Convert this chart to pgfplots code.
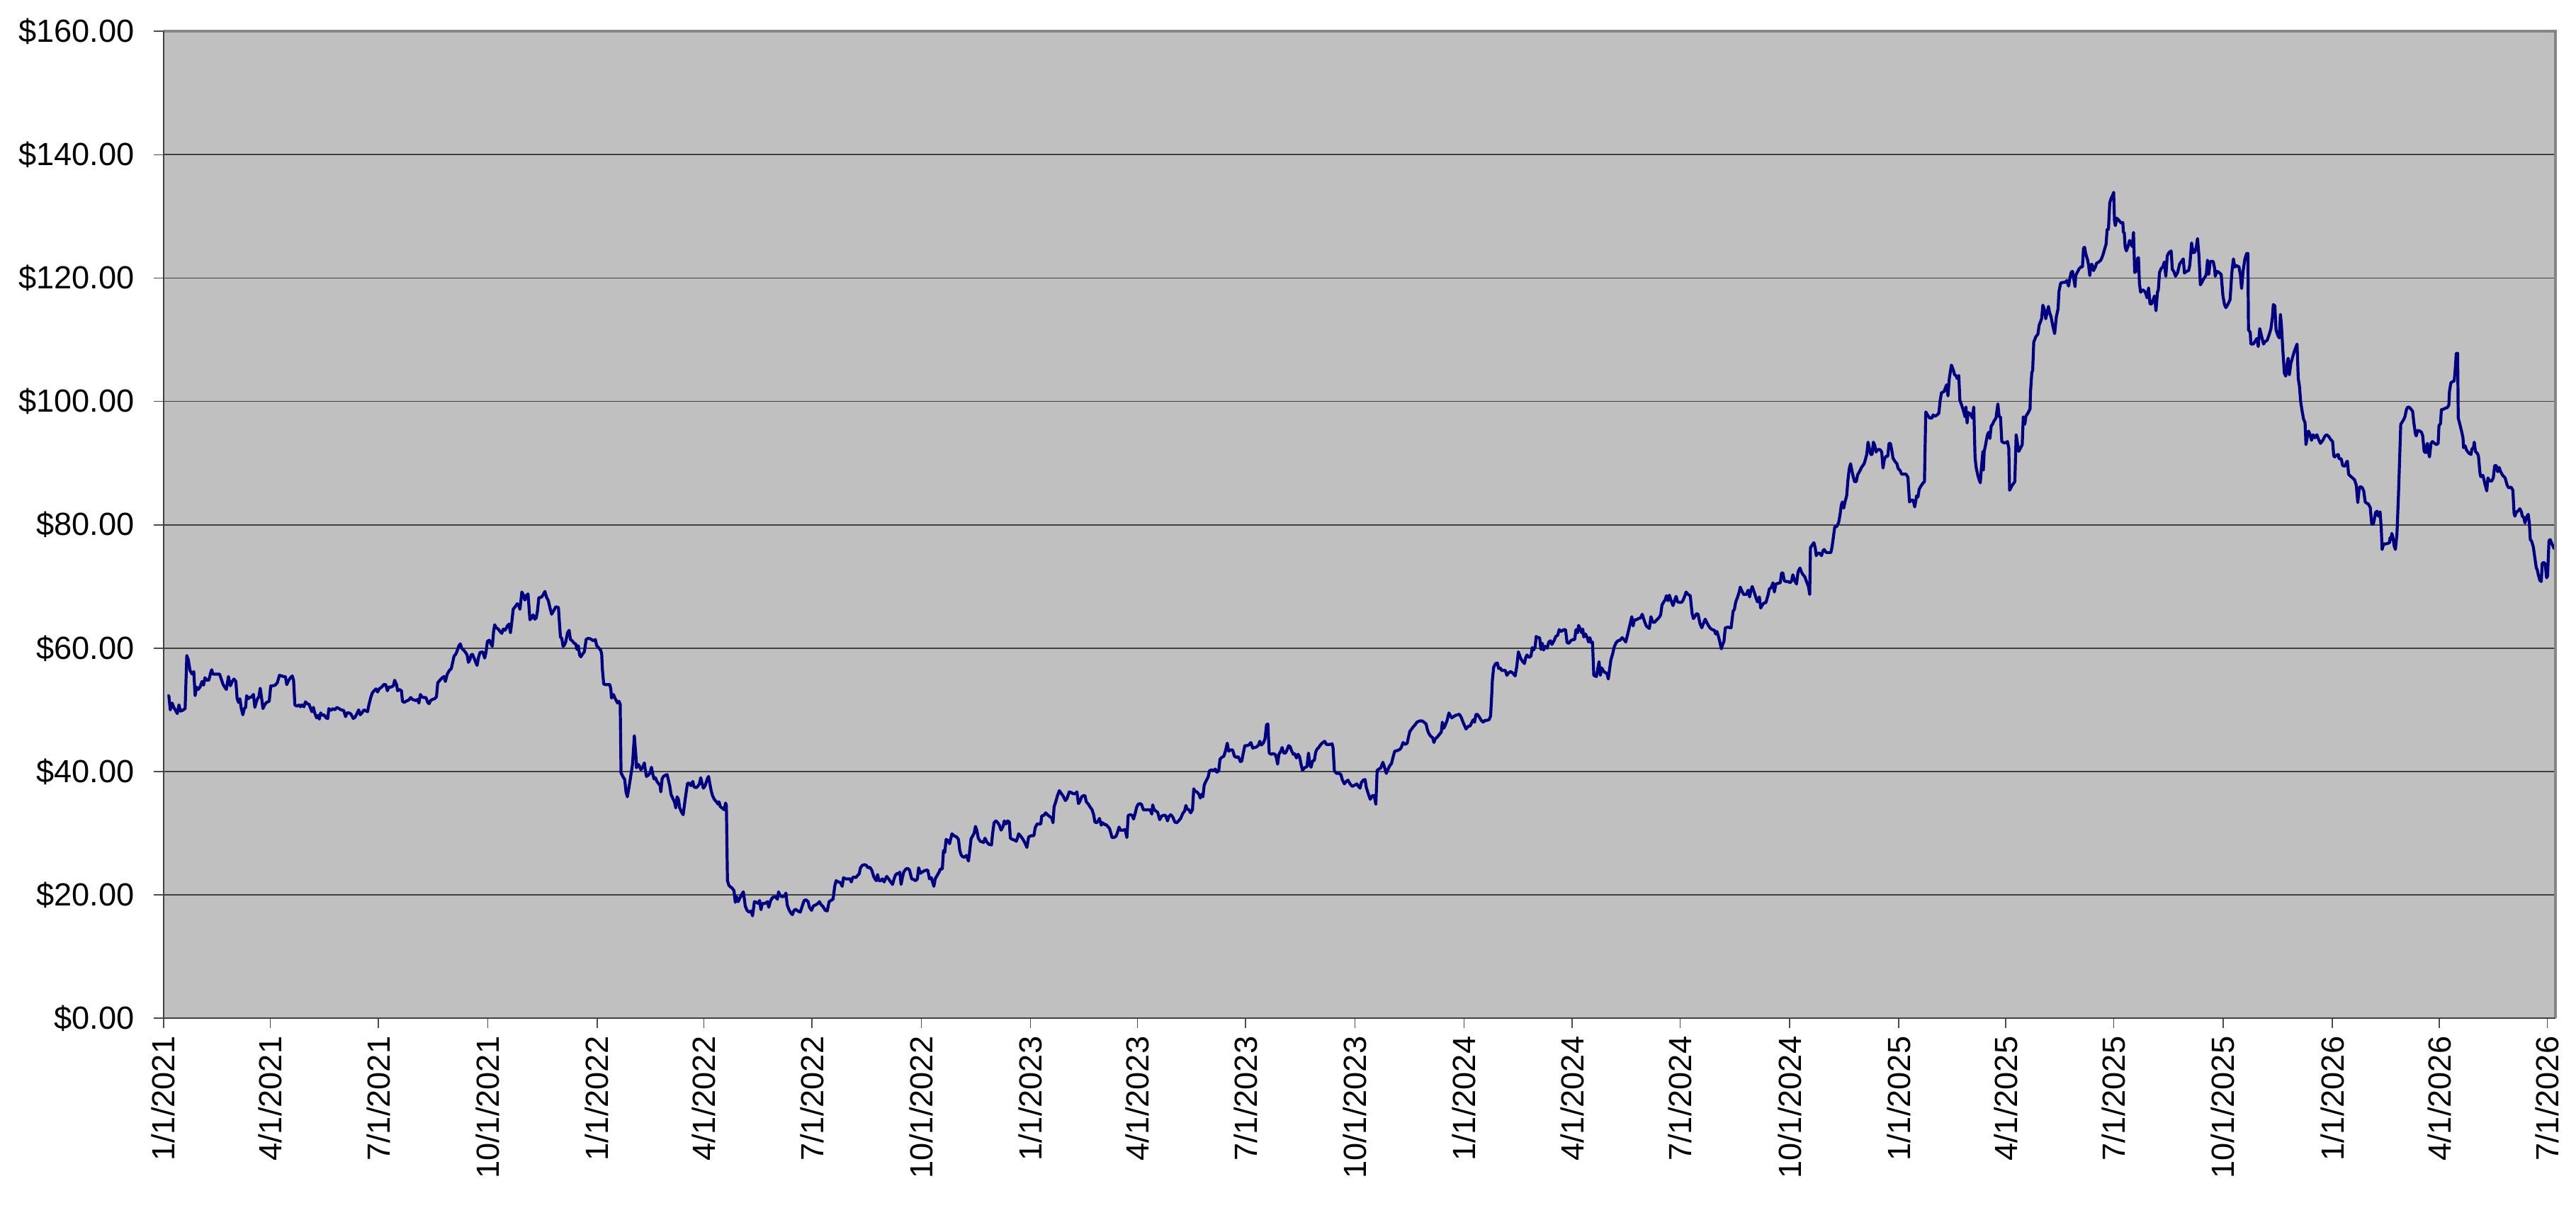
\documentclass[border=0pt]{standalone}
\usepackage{pgfplots}
\pgfplotsset{compat=1.18}
\usepackage{fontspec}
\setmainfont{Liberation Sans}
\definecolor{plotbg}{HTML}{C0C0C0}
\definecolor{navyline}{HTML}{000080}
\definecolor{edgegray}{HTML}{868686}
\begin{document}
\begin{tikzpicture}
\path[use as bounding box] (-57.7pt,-72.7pt) rectangle (851.3pt,359.3pt);
\begin{axis}[
  name=ax,
  at={(0pt,0pt)}, anchor=south west,
  scale only axis, width=844.1pt, height=348.25pt,
  xmin=0, xmax=2014, ymin=0, ymax=160,
  clip=false,
  axis background/.style={fill=plotbg},
  axis line style={draw=none},
  xtick={0,90,181,273,365,455,546,638,730,820,911,1003,1095,1186,1277,1369,1461,1551,1642,1734,1826,1916,2007},
  xticklabels={1/1/2021,4/1/2021,7/1/2021,10/1/2021,1/1/2022,4/1/2022,7/1/2022,10/1/2022,1/1/2023,4/1/2023,7/1/2023,10/1/2023,1/1/2024,4/1/2024,7/1/2024,10/1/2024,1/1/2025,4/1/2025,7/1/2025,10/1/2025,1/1/2026,4/1/2026,7/1/2026},
  ytick={0,20,40,60,80,100,120,140,160},
  yticklabels={\$0.00,\$20.00,\$40.00,\$60.00,\$80.00,\$100.00,\$120.00,\$140.00,\$160.00},
  tick align=outside, xtick pos=bottom, ytick pos=left,
  major tick length=3.45pt,
  tick style={black!70, line width=0.4pt},
  ymajorgrids, major grid style={black!75, line width=0.45pt},
  ticklabel style={font=\fontsize{11.3}{13}\selectfont},
  xticklabel style={rotate=90, anchor=east, inner sep=0pt},
  yticklabel style={anchor=east, inner sep=0pt},
  xticklabel shift=2.75pt,
  yticklabel shift=6.7pt,
  /pgf/number format/assume math mode=true,
]
\addplot[color=navyline, line width=1.05pt, line join=round, mark=none] table {
3.4 52.3
4.5 52.3
5.7 50.0
7.3 51.1
8.6 50.4
10.2 49.9
11.6 49.4
13.0 50.8
14.3 49.8
15.9 49.9
18.2 50.2
19.6 58.8
20.9 58.1
22.3 56.4
24.1 55.8
25.5 56.2
26.6 52.3
27.8 53.7
29.2 53.3
30.8 53.7
32.4 54.6
33.7 54.0
34.9 55.2
36.5 54.8
38.1 54.8
39.7 56.0
40.6 56.5
41.5 55.8
43.3 55.8
45.6 55.8
47.2 55.8
48.6 55.0
50.2 54.1
51.5 53.7
52.9 53.3
54.7 55.4
56.3 53.9
57.9 54.6
59.3 55.0
60.9 54.6
62.0 51.8
63.2 51.2
64.3 51.8
65.5 50.2
66.8 49.2
68.0 50.2
69.1 50.4
70.0 52.3
71.2 51.8
72.5 52.0
74.1 52.1
75.7 52.5
76.9 50.4
78.0 51.2
79.1 51.8
80.3 52.1
81.4 53.5
82.6 51.9
83.7 50.2
85.1 50.8
86.7 51.2
89.0 51.4
90.3 53.9
91.9 53.9
94.0 54.0
95.8 54.4
97.6 55.6
99.5 55.5
101.1 55.4
102.6 55.4
103.8 54.1
104.9 54.6
106.8 55.2
108.4 55.5
109.5 54.8
110.6 50.8
112.2 50.6
114.1 50.8
115.2 50.5
116.3 50.8
118.2 50.5
119.5 51.3
120.9 51.0
122.5 50.9
123.9 50.2
125.0 49.7
126.2 50.4
127.3 49.5
128.9 48.7
130.0 49.1
131.2 48.5
132.3 49.5
133.7 49.1
135.1 49.2
136.9 48.7
138.3 48.6
139.2 50.2
140.8 49.9
142.6 50.2
144.2 50.0
146.0 50.4
147.8 50.2
149.4 50.0
151.7 49.9
153.3 48.9
154.5 49.5
156.3 49.5
157.9 49.3
159.7 48.6
161.3 48.8
163.1 49.5
164.3 50.0
165.6 49.2
167.0 49.5
168.8 50.0
170.7 49.8
171.8 49.7
172.9 50.8
174.5 52.0
175.7 52.7
177.3 53.1
178.9 53.4
180.3 52.9
181.6 53.4
183.7 53.7
185.5 54.1
187.1 54.1
188.5 53.1
189.8 53.7
191.7 53.7
193.5 53.9
194.6 54.8
196.2 54.1
197.1 53.1
198.5 53.3
200.3 53.1
201.2 51.4
202.6 51.2
204.2 51.4
206.5 51.6
208.1 52.0
209.5 51.7
211.1 51.6
212.7 51.5
214.0 51.7
215.0 51.1
216.3 52.5
217.5 52.1
219.0 52.0
220.9 52.0
222.5 51.2
223.6 51.0
224.8 51.5
226.6 51.7
228.2 51.8
229.8 52.1
230.9 54.4
232.7 54.8
234.6 55.2
236.2 55.4
237.3 54.6
238.9 55.8
240.7 56.4
242.3 56.7
243.7 57.9
244.6 58.7
246.0 59.0
247.1 59.5
248.7 60.4
249.9 60.7
251.0 60.0
252.6 59.7
254.0 59.4
255.6 58.9
256.7 57.7
257.9 58.1
259.0 58.9
260.1 59.0
261.7 58.3
262.9 57.7
264.0 57.2
265.2 58.5
266.5 59.3
268.8 59.4
270.4 58.4
271.5 59.3
272.7 61.1
274.3 61.3
275.4 60.8
276.8 60.3
277.9 62.7
278.8 63.8
280.2 63.3
281.8 63.1
283.4 62.7
284.8 62.4
286.1 63.1
287.5 62.9
288.7 63.3
289.8 63.7
290.9 63.9
292.1 62.5
293.2 64.2
294.4 66.3
296.0 66.7
297.8 67.2
298.9 67.0
300.1 66.3
301.7 69.1
303.0 68.6
304.2 67.8
305.8 68.6
306.9 68.8
308.5 64.6
309.9 64.9
311.2 65.4
312.6 64.7
313.8 64.9
314.9 66.1
316.0 68.2
317.2 68.2
318.3 68.3
319.5 68.6
321.1 69.2
322.4 68.3
324.0 67.7
325.4 66.5
326.8 65.5
329.4 66.4
330.2 66.7
332.5 66.6
333.3 64.2
334.2 61.8
335.3 61.6
336.4 60.3
337.5 60.5
338.6 61.0
340.2 62.5
341.5 62.9
342.6 61.4
344.1 61.2
345.7 60.8
347.0 60.7
348.1 59.8
349.2 60.4
350.3 58.9
351.4 58.6
353.0 59.1
354.3 59.4
355.8 61.4
357.4 61.6
359.6 61.5
361.8 61.2
363.6 61.4
364.7 60.4
366.2 60.1
368.0 59.7
368.9 59.1
369.5 56.6
370.6 54.2
371.7 54.1
373.9 54.1
375.7 54.1
376.6 53.4
377.2 51.9
378.8 52.5
380.1 51.9
381.2 51.5
382.3 51.1
383.4 51.4
384.5 50.9
385.2 39.8
386.7 39.2
388.3 38.7
389.4 36.7
390.5 35.9
391.6 37.1
392.7 38.4
393.8 39.8
394.9 41.2
396.4 45.8
397.8 42.3
398.2 40.6
399.3 41.2
400.4 41.0
401.9 40.3
403.7 40.8
404.8 41.4
405.5 40.4
406.6 39.2
408.1 39.4
409.7 39.8
410.8 40.7
411.9 39.6
413.0 38.8
414.1 39.0
415.4 38.4
417.0 38.0
418.1 37.7
418.7 36.7
419.8 38.8
420.9 39.2
422.5 39.4
424.0 39.5
425.1 38.6
426.2 37.7
427.3 36.3
429.1 35.5
430.2 35.1
431.3 34.1
432.4 35.9
433.5 35.5
434.6 34.1
436.2 33.4
437.5 33.0
438.8 34.9
440.1 36.7
441.2 38.1
442.8 38.1
444.1 37.7
445.6 38.4
446.7 37.5
448.3 37.4
449.4 37.5
451.2 38.0
452.3 39.0
453.4 38.1
454.5 37.3
456.0 37.7
457.8 38.8
458.9 39.2
460.0 38.0
461.1 36.9
462.2 36.1
463.7 35.5
465.5 35.1
467.0 34.7
467.7 35.1
468.8 34.3
470.3 34.1
472.1 33.8
473.2 34.9
473.9 34.5
474.8 22.3
476.1 21.5
478.7 21.1
480.3 20.7
481.4 18.8
482.5 19.7
483.8 18.9
485.3 19.5
486.9 20.1
488.2 20.5
489.8 18.2
491.3 17.5
493.1 17.2
494.8 17.4
495.9 16.6
497.5 18.9
499.3 18.8
500.8 18.6
501.9 19.1
503.0 17.6
504.1 18.6
506.3 18.6
508.5 18.9
509.6 18.0
511.2 19.1
512.9 19.6
515.1 19.7
516.9 19.3
517.8 20.5
519.1 19.9
520.7 19.7
522.9 19.8
524.0 20.3
525.1 18.4
526.6 17.6
528.4 17.0
529.5 16.8
530.6 17.4
532.1 17.7
533.9 17.4
536.1 17.2
537.6 18.1
539.4 19.1
540.9 19.2
542.7 18.9
543.8 18.0
545.6 17.5
547.1 18.2
549.3 18.4
550.9 18.6
552.2 18.9
553.7 18.4
555.3 18.1
557.1 17.5
558.8 17.4
560.4 18.9
561.9 19.1
563.7 19.3
565.2 21.5
566.3 22.3
568.1 22.1
569.9 22.0
571.4 21.4
572.5 22.8
574.3 22.6
576.5 22.6
578.0 22.6
579.1 22.1
580.2 22.8
581.3 22.9
582.9 22.8
584.6 23.2
585.7 23.4
586.8 24.4
588.4 24.8
590.1 24.9
591.7 24.8
593.0 24.4
594.6 24.5
596.3 24.0
597.9 23.0
599.0 22.6
600.1 22.3
601.2 23.3
602.3 22.3
603.8 22.3
605.2 22.6
606.7 22.1
607.8 22.6
608.9 23.0
610.5 22.6
612.2 22.1
613.8 21.7
614.9 22.5
616.2 23.2
617.7 23.5
618.8 23.4
619.9 23.7
621.0 21.7
622.1 22.8
623.2 23.7
625.0 24.2
626.6 24.3
628.1 24.0
629.9 22.6
631.6 22.5
633.2 22.3
634.7 22.6
635.8 24.4
637.2 23.5
638.7 23.7
640.5 23.9
642.0 24.0
643.5 24.0
644.9 22.6
646.4 22.8
647.5 22.1
648.6 21.4
649.7 22.6
651.5 23.2
653.0 23.7
654.1 24.2
655.7 24.2
656.7 27.2
657.8 26.9
658.9 29.0
660.5 28.8
661.8 28.3
663.8 29.9
665.5 29.6
667.7 29.4
669.3 29.0
670.4 27.2
671.5 26.5
672.8 26.2
674.4 26.1
675.9 26.4
677.7 25.5
678.8 27.2
679.9 29.1
681.4 29.6
682.5 30.0
683.6 31.1
684.7 30.5
686.0 29.2
687.6 28.7
689.1 28.6
690.5 28.5
691.6 29.2
693.1 28.6
694.9 28.2
697.1 28.1
698.0 29.9
699.3 31.7
700.8 32.0
702.4 31.7
703.7 31.3
705.2 30.5
706.8 31.1
707.9 32.0
709.2 31.5
710.8 32.0
712.1 31.8
713.0 29.2
714.7 29.0
716.3 28.9
718.0 28.7
719.1 29.3
720.0 29.9
721.8 29.5
723.3 29.1
725.1 28.5
726.9 27.7
728.4 29.4
730.6 29.6
732.8 29.6
733.9 30.9
735.5 31.5
737.2 31.5
738.6 31.5
739.4 32.8
741.2 32.9
742.7 33.3
744.3 33.0
746.1 32.7
747.8 32.5
748.9 31.7
749.8 34.3
750.9 34.9
752.7 36.1
754.2 36.9
756.0 36.4
757.5 36.0
759.3 35.3
760.6 35.6
762.6 36.7
764.2 36.6
765.9 36.4
767.7 36.4
769.0 36.7
770.3 34.8
771.4 35.1
773.0 35.9
774.7 36.1
775.8 36.1
776.9 35.1
778.7 34.7
780.3 34.2
781.8 33.8
783.1 33.0
784.2 31.8
785.8 31.7
786.9 32.0
788.0 32.4
789.5 31.3
790.6 31.7
792.4 31.4
793.5 31.4
795.0 31.1
796.4 30.8
797.5 30.1
798.6 29.3
800.1 29.3
801.9 29.5
803.0 30.0
804.5 31.0
805.6 30.5
807.8 30.5
809.6 30.6
811.1 29.3
812.2 32.9
814.0 33.0
815.6 32.9
816.7 32.3
817.8 33.0
819.3 34.2
820.6 34.7
822.2 34.8
823.3 34.7
825.0 33.8
826.6 33.8
828.8 33.8
830.6 33.8
832.1 33.1
832.8 34.6
833.9 33.9
835.4 33.6
837.0 33.4
838.7 32.2
840.5 32.8
842.0 32.9
843.6 32.9
845.3 32.0
846.4 32.7
848.0 33.0
849.8 32.6
851.5 31.8
853.1 31.7
854.6 32.0
856.4 32.4
858.1 33.2
859.7 33.6
860.8 34.5
861.9 33.9
863.4 33.8
864.8 33.3
866.3 33.8
867.4 37.2
868.5 36.8
870.1 36.7
871.8 36.3
872.9 35.7
874.0 36.3
875.1 35.9
876.2 37.8
877.3 38.3
878.4 38.7
879.5 39.1
880.6 40.1
882.4 40.3
883.9 40.1
885.5 40.4
886.8 39.9
888.4 40.1
889.5 42.0
891.0 42.3
892.8 42.5
894.3 43.5
895.6 44.6
896.8 43.3
898.3 43.5
900.1 43.5
901.6 42.5
903.1 42.3
904.9 42.4
906.7 41.6
907.8 41.7
908.9 42.8
910.4 44.2
912.2 44.2
913.7 44.3
915.5 44.7
917.0 43.8
918.8 43.9
920.4 44.0
921.9 44.3
923.0 44.9
924.3 44.3
925.9 44.6
927.4 45.3
928.7 47.6
929.8 47.7
930.9 43.0
932.5 42.8
934.0 42.9
935.8 42.8
936.9 42.3
938.0 41.2
939.1 42.8
940.7 43.3
941.8 43.9
943.1 43.0
944.6 43.0
945.7 43.4
947.3 44.2
948.6 44.0
949.7 43.4
951.2 42.8
952.3 42.9
953.9 42.2
955.2 42.8
956.5 42.4
957.9 41.0
959.0 40.2
960.5 40.6
962.7 40.8
964.0 43.0
965.2 41.0
966.2 40.7
967.4 41.7
968.9 41.8
970.0 43.1
971.1 43.6
972.6 43.9
974.4 44.4
976.0 44.7
977.7 44.9
979.0 44.4
980.4 44.4
982.1 44.4
983.9 44.5
984.7 43.8
985.8 40.1
987.6 39.7
989.8 39.7
991.3 39.5
992.4 38.7
994.2 38.0
995.7 38.4
997.3 38.6
999.0 38.0
1000.8 37.6
1003.0 37.8
1004.6 38.0
1005.7 37.7
1007.4 37.3
1008.5 38.2
1010.1 38.6
1011.6 38.7
1012.7 37.4
1014.5 36.3
1016.0 35.5
1017.8 36.1
1019.3 36.1
1020.7 34.7
1021.8 40.2
1023.3 40.4
1024.9 40.6
1026.6 41.5
1027.7 40.9
1029.5 39.7
1031.0 40.4
1032.6 41.0
1033.9 41.3
1035.0 42.2
1036.6 43.3
1038.8 43.4
1041.0 43.6
1042.1 43.9
1043.6 44.7
1045.4 44.4
1047.1 44.6
1048.2 45.6
1049.3 46.5
1050.5 46.8
1052.0 47.2
1053.8 47.6
1055.3 48.0
1057.5 48.2
1059.7 48.2
1061.3 48.0
1063.0 47.7
1064.1 46.8
1065.2 46.2
1067.0 45.7
1068.5 45.5
1069.6 44.7
1070.7 45.3
1072.5 45.6
1074.1 46.0
1075.8 46.4
1076.7 48.0
1077.8 47.0
1078.9 47.4
1080.7 48.3
1082.2 49.5
1083.3 49.1
1084.6 48.7
1086.2 48.9
1087.7 49.1
1089.5 49.2
1091.0 49.3
1092.8 48.7
1093.9 48.1
1095.0 47.6
1096.6 46.9
1098.3 47.3
1100.1 47.4
1101.6 48.0
1102.7 48.4
1103.8 48.0
1104.9 49.2
1106.0 49.3
1107.6 48.9
1109.4 48.3
1111.1 48.0
1112.7 48.3
1114.2 48.3
1116.0 48.4
1117.3 49.0
1118.2 52.2
1118.8 54.8
1119.9 56.9
1121.5 57.5
1123.0 57.6
1124.1 56.7
1125.5 56.8
1126.6 56.4
1128.1 56.4
1129.7 56.4
1131.0 55.6
1132.5 56.0
1134.1 56.2
1135.8 56.0
1138.0 55.5
1139.4 57.1
1140.7 59.4
1142.5 58.4
1144.0 57.9
1145.8 57.5
1146.9 58.5
1148.0 58.9
1149.5 58.5
1151.3 58.7
1152.4 60.1
1153.5 59.7
1154.8 60.2
1155.7 61.9
1157.2 61.7
1158.6 61.7
1159.7 59.8
1160.8 60.8
1161.9 59.7
1163.4 60.3
1165.0 60.0
1166.3 61.0
1167.8 61.2
1168.9 60.6
1170.7 61.2
1172.2 61.9
1173.8 62.1
1175.1 63.0
1176.7 62.7
1178.9 63.0
1180.4 63.0
1181.7 60.9
1183.3 60.8
1184.8 61.2
1186.6 61.4
1188.1 61.4
1189.2 63.0
1190.5 62.5
1191.4 63.7
1192.8 63.1
1193.9 62.5
1194.9 63.1
1195.8 61.8
1197.2 62.3
1198.7 61.7
1199.8 61.0
1200.9 61.7
1202.0 60.9
1203.1 61.0
1204.2 55.6
1206.4 55.4
1208.6 57.8
1209.7 55.6
1210.9 56.8
1212.6 56.2
1214.2 56.0
1215.3 55.9
1216.4 55.0
1217.5 56.6
1218.6 58.1
1220.1 59.1
1221.4 60.2
1223.0 60.9
1224.5 61.2
1226.3 61.3
1228.1 61.7
1229.6 61.4
1231.1 61.0
1232.5 62.1
1234.0 63.3
1235.1 64.2
1236.2 65.1
1237.3 63.6
1238.4 64.6
1240.0 64.6
1241.7 64.8
1243.5 64.9
1245.0 65.5
1246.1 64.8
1247.2 64.2
1248.4 63.6
1249.5 63.4
1251.0 63.2
1252.3 65.1
1253.9 64.2
1255.4 64.2
1257.2 64.6
1258.9 64.9
1260.5 65.4
1261.6 67.0
1263.1 67.5
1264.2 67.8
1265.3 68.5
1266.7 67.7
1267.8 68.6
1269.3 67.7
1270.9 66.9
1272.2 67.7
1273.5 68.4
1274.8 67.5
1277.0 67.4
1278.6 67.5
1280.3 68.2
1281.9 69.1
1283.7 68.7
1285.4 68.5
1287.0 65.6
1288.1 64.8
1289.2 65.1
1290.7 65.6
1292.0 65.5
1293.6 64.0
1295.1 63.3
1296.5 64.0
1298.0 64.7
1299.5 64.1
1300.9 63.6
1302.4 63.2
1304.0 63.0
1305.7 62.9
1306.8 62.3
1307.9 62.7
1309.0 62.0
1310.1 61.2
1311.6 59.9
1312.7 60.6
1313.8 61.1
1314.9 63.3
1317.1 63.4
1319.8 63.3
1321.5 66.0
1322.6 66.3
1323.7 67.5
1325.3 68.3
1326.6 69.1
1327.5 69.9
1328.8 69.3
1330.4 68.7
1332.6 68.7
1334.1 69.4
1335.4 68.3
1336.5 69.4
1337.6 70.0
1339.2 69.1
1340.7 68.2
1342.0 67.5
1343.6 68.3
1344.7 66.5
1345.8 66.9
1347.3 67.3
1349.1 67.4
1350.9 68.6
1352.0 69.6
1353.5 69.8
1355.1 70.6
1356.2 69.1
1357.5 70.4
1359.0 70.5
1361.2 70.6
1362.3 72.2
1363.4 72.2
1364.6 70.9
1366.3 70.8
1367.9 70.8
1369.4 70.6
1370.7 70.9
1371.8 71.9
1373.4 70.9
1374.9 70.4
1376.2 72.4
1377.8 73.0
1378.9 72.4
1380.0 72.0
1381.8 71.6
1383.3 70.8
1384.9 70.0
1386.0 68.7
1386.6 76.3
1388.4 76.8
1389.5 77.1
1390.6 76.3
1391.5 75.0
1392.8 75.4
1394.3 75.4
1395.9 75.0
1397.2 75.8
1398.1 76.0
1399.9 75.5
1402.1 75.5
1403.8 75.5
1404.7 76.3
1406.0 78.1
1407.1 79.7
1408.7 79.7
1410.4 80.4
1411.5 81.6
1412.6 83.2
1413.5 83.7
1414.6 82.7
1415.7 83.7
1417.1 84.7
1418.2 87.3
1419.3 89.1
1420.4 89.9
1421.9 88.4
1423.7 87.0
1425.2 87.0
1426.3 88.1
1428.1 88.7
1429.6 89.3
1431.8 89.9
1432.9 90.6
1434.0 91.4
1435.1 93.4
1436.2 92.4
1437.4 91.4
1438.5 91.4
1439.6 93.4
1440.7 92.9
1441.8 91.8
1443.3 92.2
1445.1 92.2
1446.6 91.8
1447.7 89.2
1448.8 90.6
1450.2 91.1
1451.7 91.1
1452.8 93.2
1453.9 93.2
1455.0 92.2
1456.1 90.8
1457.7 90.3
1459.4 89.9
1460.5 89.1
1462.1 88.8
1463.4 88.2
1464.9 88.2
1467.1 88.2
1468.7 87.7
1470.0 83.7
1471.6 84.0
1473.1 84.0
1474.4 82.9
1476.0 84.7
1477.1 84.5
1478.2 85.8
1479.7 86.3
1481.5 86.8
1482.6 87.0
1483.7 98.3
1485.2 97.8
1487.0 97.3
1488.8 97.3
1489.9 97.8
1491.4 97.6
1493.2 97.8
1494.7 98.1
1495.8 100.1
1496.9 101.4
1499.1 101.6
1500.2 102.2
1501.3 102.7
1502.4 100.9
1503.5 103.7
1505.3 105.9
1506.9 105.1
1508.0 104.3
1509.1 104.2
1510.2 103.7
1511.5 104.2
1512.4 100.2
1514.1 99.3
1515.7 98.3
1516.8 97.5
1517.5 99.1
1518.5 96.5
1519.4 98.2
1521.2 98.0
1523.0 97.3
1524.1 99.1
1525.2 90.9
1526.1 89.3
1527.8 87.8
1529.6 86.8
1530.5 89.1
1531.8 91.9
1532.2 88.9
1532.9 91.9
1534.0 92.9
1535.5 94.5
1536.6 95.0
1537.7 94.0
1538.8 96.0
1539.9 96.3
1541.1 96.8
1542.8 97.3
1544.4 99.6
1545.5 97.5
1546.6 97.5
1547.7 93.5
1549.4 93.3
1551.0 93.3
1552.5 93.5
1553.6 92.4
1554.3 85.6
1556.1 86.3
1557.6 86.7
1558.7 87.0
1559.8 94.6
1560.9 93.2
1562.0 91.9
1563.6 92.5
1564.9 93.0
1565.8 97.5
1567.1 96.3
1568.0 97.6
1569.7 98.1
1571.5 98.8
1571.9 101.6
1573.0 104.7
1573.7 105.0
1574.6 109.6
1576.4 110.5
1578.1 110.9
1579.2 112.4
1580.3 112.9
1581.2 113.4
1582.3 115.6
1583.4 115.0
1584.7 113.4
1585.6 114.2
1587.0 115.4
1587.8 114.5
1589.2 113.7
1590.7 112.2
1592.2 111.0
1593.6 113.7
1595.1 115.0
1595.8 117.8
1597.3 119.2
1599.5 119.3
1601.1 119.3
1602.4 119.6
1603.9 118.7
1605.0 119.9
1606.1 120.9
1607.2 121.1
1608.3 119.9
1609.4 118.6
1609.9 120.4
1611.2 120.9
1612.8 121.5
1614.3 121.8
1615.6 121.8
1616.5 124.8
1617.4 125.0
1618.3 124.0
1620.0 122.9
1620.9 121.9
1621.8 120.4
1622.7 122.2
1623.8 122.2
1624.9 121.2
1626.7 121.9
1627.5 122.4
1629.3 122.6
1631.1 122.9
1632.6 123.6
1633.7 124.3
1635.5 125.5
1636.4 127.9
1637.5 127.9
1638.6 132.2
1639.9 133.0
1641.0 133.4
1641.9 133.9
1642.6 129.3
1643.3 128.5
1644.6 129.7
1646.6 129.3
1648.3 128.9
1649.6 129.0
1650.1 127.4
1650.8 127.4
1651.6 125.0
1652.6 124.4
1654.1 125.2
1655.3 126.1
1656.3 125.6
1657.6 125.1
1658.6 127.4
1659.6 120.9
1660.8 121.1
1662.1 123.2
1662.8 123.3
1663.6 119.1
1664.6 117.7
1666.3 118.1
1667.8 117.9
1669.0 117.5
1670.0 116.8
1671.3 118.4
1672.5 115.8
1673.8 115.8
1675.0 116.4
1676.3 117.1
1677.5 114.7
1678.8 117.7
1679.5 118.1
1680.5 120.9
1682.0 121.6
1683.3 121.8
1684.5 122.6
1685.8 120.3
1687.0 123.6
1688.3 124.1
1690.3 124.4
1691.3 121.4
1692.5 121.1
1694.0 120.3
1695.7 120.9
1697.5 122.3
1699.0 122.7
1700.5 123.1
1701.5 120.8
1703.2 121.1
1705.0 121.2
1706.0 122.1
1707.5 125.7
1708.7 124.1
1710.2 124.2
1711.5 125.1
1712.5 126.4
1713.7 123.6
1714.9 118.9
1716.2 119.3
1717.4 119.8
1718.9 120.2
1719.9 120.6
1720.9 122.9
1721.9 120.6
1723.2 122.7
1725.7 122.7
1726.9 121.6
1727.4 120.3
1728.9 121.1
1730.7 120.9
1732.4 120.6
1733.9 117.1
1735.2 115.7
1736.4 115.2
1738.2 115.8
1739.9 116.5
1741.4 120.9
1742.7 123.1
1743.9 121.8
1745.6 122.0
1747.4 121.8
1748.6 120.5
1749.6 118.3
1750.9 121.2
1752.4 123.1
1753.9 124.0
1754.9 124.0
1755.4 111.6
1756.9 111.2
1757.4 109.3
1759.4 109.3
1761.1 109.8
1762.4 110.2
1763.6 108.9
1764.9 111.8
1766.9 110.2
1768.1 109.3
1769.4 109.7
1771.1 109.9
1772.6 110.7
1774.3 111.8
1775.6 113.7
1776.3 115.7
1777.6 115.5
1778.6 111.6
1780.1 110.7
1781.3 110.3
1782.3 114.1
1783.1 112.5
1784.3 108.4
1785.6 104.6
1786.8 104.1
1788.1 106.3
1788.8 107.0
1789.8 104.3
1791.1 106.2
1792.3 107.0
1793.8 108.0
1795.1 108.7
1796.3 109.3
1797.3 103.7
1798.3 102.5
1799.3 100.0
1800.5 98.5
1801.8 97.1
1803.0 96.6
1803.8 93.0
1804.8 94.1
1806.0 95.2
1807.3 94.6
1808.5 93.7
1809.8 94.6
1811.3 94.1
1813.0 94.6
1814.3 93.9
1816.0 93.2
1818.0 93.7
1819.8 94.4
1821.3 94.6
1823.0 94.3
1824.7 93.8
1826.2 93.5
1827.2 91.2
1828.0 91.0
1829.7 91.3
1831.0 91.4
1831.7 90.7
1833.5 90.7
1834.7 89.6
1836.7 89.5
1838.0 90.2
1838.7 90.3
1839.7 88.2
1841.2 87.9
1843.0 87.6
1844.7 87.3
1846.2 86.4
1847.4 83.6
1848.7 86.0
1849.7 86.2
1851.2 86.0
1852.4 85.5
1853.7 83.7
1854.9 83.5
1856.2 83.4
1857.9 82.8
1859.2 80.1
1860.4 80.1
1861.2 80.7
1862.4 82.0
1863.7 82.2
1864.7 81.4
1866.2 82.1
1867.2 79.4
1867.9 76.0
1869.2 76.9
1870.9 76.9
1872.9 77.0
1874.1 77.1
1874.6 77.9
1875.4 77.6
1876.1 78.6
1877.1 77.9
1877.9 76.7
1879.1 76.0
1880.4 78.5
1881.6 84.4
1882.9 92.1
1883.6 96.3
1884.6 96.6
1885.9 97.0
1887.1 97.5
1888.4 98.7
1889.6 99.1
1891.1 99.0
1892.4 98.7
1893.6 98.4
1894.6 96.6
1895.9 94.8
1896.6 94.4
1897.9 95.3
1899.6 95.2
1901.1 95.0
1902.1 94.4
1903.3 91.9
1904.6 91.7
1905.3 92.8
1906.1 93.2
1907.1 91.6
1907.8 91.0
1909.1 93.2
1910.3 93.5
1912.1 93.2
1913.6 93.0
1915.1 93.2
1915.8 96.1
1917.1 96.4
1917.8 98.7
1919.1 98.7
1921.1 98.9
1922.8 99.0
1924.1 99.4
1924.6 101.6
1925.8 103.0
1927.1 103.2
1928.6 103.3
1929.6 105.5
1930.3 107.8
1931.5 107.8
1932.0 97.3
1933.5 96.2
1935.0 95.0
1936.0 94.1
1936.5 92.5
1937.8 92.8
1939.0 92.1
1941.0 91.6
1942.8 91.4
1943.5 92.3
1944.8 92.5
1945.5 93.4
1946.5 91.9
1948.0 91.6
1949.0 91.2
1950.3 88.4
1951.0 87.8
1952.8 88.0
1954.5 86.6
1956.0 85.5
1957.0 87.6
1958.5 87.1
1960.2 87.1
1961.5 87.6
1962.7 89.6
1964.0 89.6
1965.2 88.6
1966.5 89.3
1967.7 88.6
1969.5 88.0
1971.5 87.6
1973.2 86.4
1974.5 86.0
1976.5 86.1
1978.0 85.6
1979.0 81.9
1979.7 81.4
1981.0 82.1
1982.2 82.2
1983.9 82.6
1985.2 82.1
1985.9 81.4
1987.2 81.2
1988.2 80.3
1989.4 81.2
1990.9 81.7
1991.9 80.2
1992.7 77.6
1993.9 77.3
1995.2 76.4
1996.4 74.8
1997.7 73.0
1998.4 72.8
1999.4 71.9
2000.7 71.0
2001.9 70.8
2002.7 73.7
2003.9 73.9
2005.2 73.7
2006.4 71.4
2007.2 71.7
2008.4 77.4
2009.4 77.6
2010.9 76.9
2012.6 76.2
2013.9 76.1
};
\end{axis}
\draw[edgegray, line width=0.9pt] (ax.north west) -- (ax.north east) -- (ax.south east);
\draw[black!75, line width=0.6pt] (ax.north west) -- (ax.south west) -- (ax.south east);
\end{tikzpicture}
\end{document}
